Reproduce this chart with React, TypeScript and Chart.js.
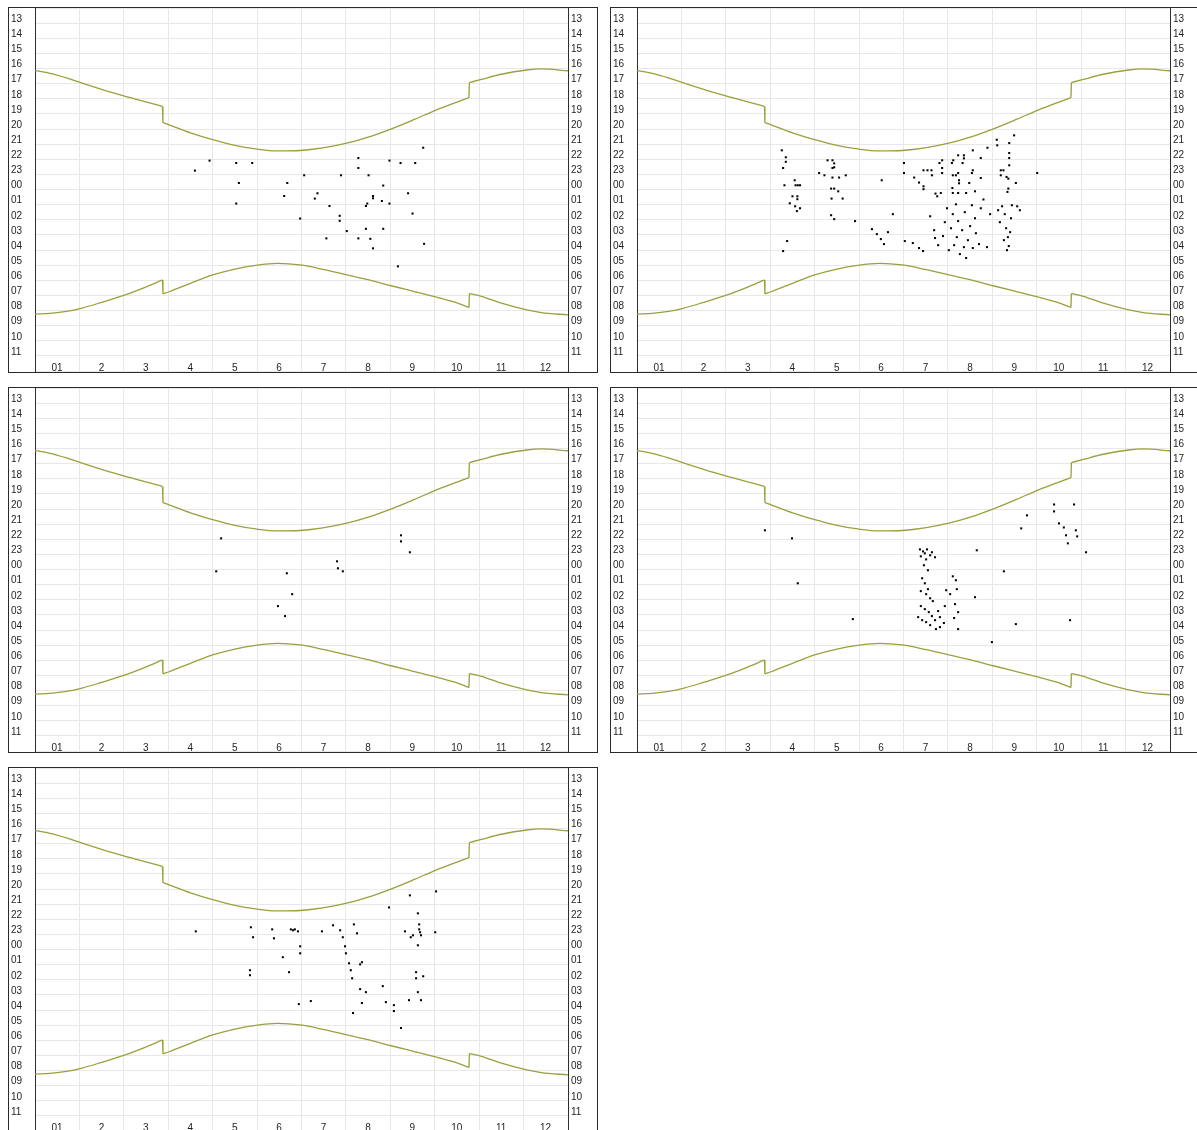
import React, { useEffect, useRef } from 'react';
import { Chart, registerables } from 'chart.js';

Chart.register(...registerables);

// ---- axis labels ----
const monthLabels = ['01', '2', '3', '4', '5', '6', '7', '8', '9', '10', '11', '12', ''];
const monthTickValues = [0, 1, 2, 3, 4, 5, 6, 7, 8, 9, 10, 11, 12];
const hourTickValues = [12, 13, 14, 15, 16, 17, 18, 19, 20, 21, 22, 23, 24, 25, 26, 27, 28, 29, 30, 31, 32, 33, 34, 35, 36];

// ---- sunset / sunrise curves (x: month position, y: hour, >24 = after midnight) ----
const curveMonths = [0, 0.34, 0.71, 1.06, 1.5, 1.98, 2.45, 2.87, 2.88, 3.02, 3.5, 4.0, 4.5, 4.97, 5.47, 5.97, 6.48, 7.02, 7.52, 8.04, 8.54, 9.04, 9.5, 9.77, 9.78, 10.05, 10.5, 11.07, 11.4, 12];
const sunsetHours = [16.14, 16.32, 16.62, 16.97, 17.38, 17.80, 18.17, 18.51, 19.58, 19.72, 20.25, 20.70, 21.08, 21.32, 21.45, 21.42, 21.25, 20.94, 20.52, 19.97, 19.37, 18.74, 18.22, 17.93, 16.93, 16.72, 16.38, 16.10, 16.03, 16.15];
const sunriseHours = [32.24, 32.19, 32.06, 31.84, 31.46, 31.02, 30.50, 29.98, 30.90, 30.76, 30.20, 29.65, 29.26, 29.01, 28.88, 28.99, 29.28, 29.65, 29.98, 30.38, 30.75, 31.12, 31.50, 31.80, 30.88, 31.06, 31.52, 31.96, 32.14, 32.29];

// ---- observations per panel: [month position, hour] ----
const panel1Points = [
  [3.60, 22.75], [3.93, 22.09], [4.53, 22.25], [4.89, 22.25], [4.59, 23.57], [4.53, 24.93], [5.68, 23.57], [5.61, 24.43],
  [6.06, 23.06], [5.97, 25.92], [6.36, 24.25], [6.30, 24.60], [6.63, 25.09], [6.56, 27.23], [6.89, 23.06], [6.86, 25.74],
  [6.86, 26.07], [7.02, 26.75], [7.28, 21.92], [7.28, 22.58], [7.51, 23.06], [7.28, 27.23], [7.45, 25.09], [7.48, 24.93],
  [7.45, 26.60], [7.55, 27.26], [7.61, 27.89], [7.61, 24.43], [7.61, 24.58], [7.84, 23.74], [7.81, 24.76], [7.84, 26.60],
  [7.98, 22.09], [7.98, 24.93], [8.23, 22.25], [8.40, 24.25], [8.50, 25.59], [8.56, 22.25], [8.74, 21.24], [8.76, 27.59],
  [8.17, 29.08],
];

const panel2Points = [
  [3.26, 21.41], [3.35, 21.87], [3.35, 22.17], [3.29, 22.58], [3.32, 23.72], [3.55, 23.39], [3.57, 23.72], [3.62, 23.72],
  [3.67, 23.72], [3.50, 24.45], [3.61, 24.45], [3.61, 24.64],
  [4.29, 22.07], [4.40, 22.07], [4.44, 22.27], [4.44, 22.53], [4.40, 22.58], [4.10, 22.91], [4.22, 23.06], [4.40, 23.21],
  [4.55, 23.21], [4.70, 23.06], [4.37, 23.94], [4.44, 23.94], [4.53, 24.12], [4.38, 24.60], [4.63, 24.60], [5.51, 23.39],
  [6.01, 22.25], [6.01, 22.91], [6.24, 23.21], [6.35, 23.54], [6.45, 23.79], [6.45, 23.98], [6.45, 22.73], [6.54, 22.73],
  [6.63, 22.73], [6.64, 23.06], [6.81, 22.25], [6.87, 22.07], [6.87, 22.58], [6.87, 22.91], [6.72, 24.27], [6.76, 24.45],
  [6.84, 24.23], [7.09, 22.25], [7.12, 22.07], [7.23, 21.74], [7.36, 21.74], [7.36, 21.94], [7.11, 23.06], [7.18, 23.06],
  [7.23, 22.91], [7.25, 23.39], [7.25, 23.59], [7.10, 23.90], [7.11, 24.23], [7.23, 24.23], [7.41, 24.23], [7.61, 24.12],
  [7.33, 22.25], [7.48, 23.57], [7.54, 22.91], [7.56, 22.73], [7.74, 23.24], [7.74, 21.92], [7.56, 21.41], [7.89, 21.24],
  [8.10, 20.71], [8.11, 21.08], [8.38, 20.93], [8.49, 20.42], [8.38, 21.59], [8.38, 21.92], [8.38, 22.40], [8.19, 22.73],
  [8.25, 22.73], [8.19, 23.06], [8.32, 23.17], [8.36, 23.28], [8.53, 23.57], [8.34, 24.16], [8.36, 23.94], [7.80, 24.66],
  [9.01, 22.91],
  [3.38, 27.41], [3.29, 28.07], [3.44, 24.91], [3.56, 25.11], [3.67, 25.24], [3.60, 25.43], [4.37, 25.70], [4.44, 25.96],
  [4.91, 26.09], [5.29, 26.62], [5.40, 26.95], [5.49, 27.28], [5.56, 27.61], [5.65, 26.82], [5.76, 25.63], [6.03, 27.41],
  [6.21, 27.54], [6.35, 27.87], [6.44, 28.07], [6.60, 25.77], [6.69, 26.69], [6.71, 27.21], [6.78, 27.68], [6.89, 27.08],
  [6.93, 26.16], [6.98, 25.24], [7.02, 28.01], [7.07, 26.56], [7.11, 25.63], [7.14, 27.68], [7.18, 24.98], [7.20, 27.15],
  [7.23, 26.09], [7.27, 28.27], [7.32, 26.69], [7.36, 27.81], [7.38, 25.50], [7.41, 28.53], [7.45, 27.35], [7.50, 26.42],
  [7.54, 25.04], [7.56, 27.87], [7.61, 25.90], [7.63, 26.89], [7.70, 27.61], [7.74, 25.24], [7.88, 27.81], [7.95, 25.63],
  [8.13, 25.37], [8.17, 26.16], [8.22, 25.11], [8.28, 25.63], [8.31, 26.56], [8.35, 27.15], [8.37, 27.74], [8.42, 25.90],
  [8.44, 25.04], [8.56, 25.11], [8.62, 25.37], [8.26, 27.35], [8.40, 26.82], [8.33, 28.01],
];

const panel3Points = [
  [4.19, 21.94], [4.08, 24.12], [5.67, 24.25], [5.79, 25.63], [5.47, 26.42], [5.63, 27.08], [6.80, 23.46], [6.82, 23.92],
  [6.93, 24.12], [8.24, 21.74], [8.24, 22.14], [8.44, 22.86],
];

const panel4Points = [
  [2.88, 21.41], [3.49, 21.94], [3.62, 24.91], [4.86, 27.28], [6.37, 22.67], [6.44, 22.80], [6.48, 22.93], [6.53, 22.67],
  [6.60, 23.06], [6.39, 23.13], [6.51, 23.33], [6.64, 22.86], [6.71, 23.19], [6.46, 23.72], [6.55, 24.05], [6.42, 24.58],
  [6.48, 24.91], [6.55, 25.30], [6.39, 25.43], [6.51, 25.63], [6.60, 25.90], [6.66, 26.09], [6.39, 26.42], [6.48, 26.62],
  [6.57, 26.82], [6.33, 27.15], [6.42, 27.35], [6.51, 27.48], [6.60, 27.68], [6.71, 27.35], [6.82, 27.15], [6.91, 27.54],
  [6.73, 27.94], [6.78, 26.75], [6.93, 26.42], [6.96, 25.37], [7.05, 25.63], [7.11, 24.45], [7.18, 24.71], [7.20, 25.30],
  [7.16, 26.29], [7.23, 26.82], [7.14, 27.21], [7.23, 27.94], [6.82, 27.81], [6.64, 27.08], [7.65, 22.73], [7.61, 25.83],
  [8.26, 24.12], [8.53, 27.61], [7.99, 28.80], [8.65, 21.28], [8.78, 20.42], [9.39, 19.70], [9.39, 20.16], [9.50, 20.95],
  [9.61, 21.22], [9.66, 21.74], [9.70, 22.27], [9.84, 19.70], [9.88, 21.41], [9.91, 21.81], [10.11, 22.86], [9.75, 27.35],
];

const panel5Points = [
  [3.62, 22.80], [4.86, 22.53], [4.91, 23.19], [4.84, 25.37], [4.84, 25.70], [5.34, 22.67], [5.38, 23.26], [5.58, 24.51],
  [5.72, 25.50], [5.76, 22.67], [5.81, 22.73], [5.85, 22.67], [5.92, 22.80], [5.97, 23.79], [5.97, 24.25], [5.94, 27.61],
  [6.21, 27.41], [6.46, 22.80], [6.71, 22.40], [6.87, 22.73], [6.93, 23.19], [6.98, 23.79], [7.00, 24.25], [7.07, 24.91],
  [7.11, 25.37], [7.14, 25.90], [7.18, 22.34], [7.25, 22.93], [7.32, 24.98], [7.36, 24.84], [7.32, 26.62], [7.16, 28.20],
  [7.36, 27.54], [7.45, 26.82], [7.83, 26.42], [7.90, 27.48], [8.08, 27.68], [8.08, 28.07], [8.24, 29.19], [7.97, 21.22],
  [8.44, 20.42], [8.33, 22.80], [8.46, 23.19], [8.51, 23.06], [8.62, 21.61], [8.65, 22.34], [8.65, 22.67], [8.67, 22.86],
  [8.69, 23.06], [8.62, 23.72], [8.58, 25.50], [8.58, 25.90], [8.62, 26.82], [8.69, 27.35], [8.42, 27.35], [9.01, 22.86],
  [9.03, 20.16], [8.74, 25.77],
];

const FONT = { family: 'Liberation Sans, Arial, Helvetica, sans-serif', size: 10 };
const TEXT = '#1e1e1e';
const GRID = '#e8e8e8';
const AXIS = '#2e2e2e';
const CURVE = '#9aa03c';

const hourLabel = (v: number) => (v <= 12 || v >= 36 ? '' : String(v % 24).padStart(2, '0'));

// split a curve into smooth pieces at the clock-change jumps, plus the straight jump strokes
function curveDatasets(ys: number[]) {
  const pieces: { x: number; y: number }[][] = [[]];
  const jumps: { x: number; y: number }[][] = [];
  curveMonths.forEach((x, i) => {
    const pt = { x, y: ys[i] };
    if (i > 0 && x - curveMonths[i - 1] < 0.05) {
      jumps.push([{ x: curveMonths[i - 1], y: ys[i - 1] }, pt]);
      pieces.push([]);
    }
    pieces[pieces.length - 1].push(pt);
  });
  const base = { showLine: true, borderColor: CURVE, borderWidth: 1.3, pointRadius: 0, pointHoverRadius: 0, fill: false };
  return [
    ...pieces.map((data) => ({ ...base, data, cubicInterpolationMode: 'monotone' })),
    ...jumps.map((data) => ({ ...base, data, tension: 0 })),
  ];
}

type PanelProps = { points: number[][]; left: number; top: number; width: number; rightAxis: number };

function Panel({ points, left, top, width, rightAxis }: PanelProps) {
  const ref = useRef<HTMLCanvasElement | null>(null);
  useEffect(() => {
    if (!ref.current) return;
    const chart = new Chart(ref.current, {
      type: 'scatter',
      data: {
        datasets: [
          ...curveDatasets(sunsetHours),
          ...curveDatasets(sunriseHours),
          {
            data: points.map(([x, y]) => ({ x, y })),
            showLine: false,
            pointStyle: 'rect',
            pointRadius: 1.45,
            pointHoverRadius: 1.45,
            pointBackgroundColor: '#000',
            pointBorderWidth: 0,
          },
        ],
      } as any,
      options: {
        responsive: false,
        maintainAspectRatio: false,
        animation: false,
        events: [],
        layout: { autoPadding: false, padding: { left: 2, right: 0, top: 0, bottom: 0 } },
        plugins: { legend: { display: false }, tooltip: { enabled: false } },
        scales: {
          x: {
            type: 'linear',
            min: 0,
            max: 12,
            position: 'bottom',
            afterBuildTicks: (s: any) => {
              s.ticks = monthTickValues.map((value) => ({ value }));
            },
            afterFit: (s: any) => {
              s.height = 1;
              s.paddingLeft = 0;
              s.paddingRight = 0;
            },
            ticks: {
              autoSkip: false,
              maxRotation: 0,
              minRotation: 0,
              mirror: true,
              padding: -3,
              labelOffset: 22,
              font: FONT,
              color: TEXT,
              callback: (v: any) => monthLabels[Math.round(Number(v))] ?? '',
            },
            grid: { color: GRID, lineWidth: 1, drawTicks: false },
            border: { display: false },
          },
          y: {
            type: 'linear',
            min: 12,
            max: 36,
            reverse: true,
            position: 'left',
            afterBuildTicks: (s: any) => {
              s.ticks = hourTickValues.map((value) => ({ value }));
            },
            afterFit: (s: any) => {
              s.width = 24;
              s.paddingTop = 0;
              s.paddingBottom = 0;
            },
            ticks: {
              autoSkip: false,
              crossAlign: 'far',
              padding: 0,
              labelOffset: -4,
              font: FONT,
              color: TEXT,
              callback: (v: any) => hourLabel(Number(v)),
            },
            grid: { color: GRID, lineWidth: 1, drawTicks: false },
            border: { display: true, color: AXIS, width: 1 },
          },
          y2: {
            type: 'linear',
            min: 12,
            max: 36,
            reverse: true,
            position: 'right',
            afterBuildTicks: (s: any) => {
              s.ticks = hourTickValues.map((value) => ({ value }));
            },
            afterFit: (s: any) => {
              s.width = rightAxis;
              s.paddingTop = 0;
              s.paddingBottom = 0;
            },
            ticks: {
              autoSkip: false,
              crossAlign: 'near',
              padding: 3,
              labelOffset: -4,
              font: FONT,
              color: TEXT,
              callback: (v: any) => hourLabel(Number(v)),
            },
            grid: { drawOnChartArea: false, drawTicks: false },
            border: { display: true, color: AXIS, width: 1 },
          },
        },
      } as any,
    });
    return () => chart.destroy();
  }, [points, rightAxis]);

  return (
    <div
      style={{
        position: 'absolute',
        left,
        top,
        width,
        height: 366,
        border: '1px solid #2a2a2a',
        boxSizing: 'border-box',
        background: '#fff',
      }}
    >
      <canvas ref={ref} width={width - 2} height={364} style={{ display: 'block', width: width - 2, height: 364 }} />
    </div>
  );
}

export default function App() {
  return (
    <div
      style={{
        position: 'fixed',
        left: 0,
        top: 0,
        width: 1197,
        height: 1130,
        overflow: 'hidden',
        background: '#fff',
      }}
    >
      <Panel points={panel1Points} left={8} top={7} width={590} rightAxis={29} />
      <Panel points={panel2Points} left={610} top={7} width={588} rightAxis={27} />
      <Panel points={panel3Points} left={8} top={387} width={590} rightAxis={29} />
      <Panel points={panel4Points} left={610} top={387} width={588} rightAxis={27} />
      <Panel points={panel5Points} left={8} top={767} width={590} rightAxis={29} />
    </div>
  );
}
